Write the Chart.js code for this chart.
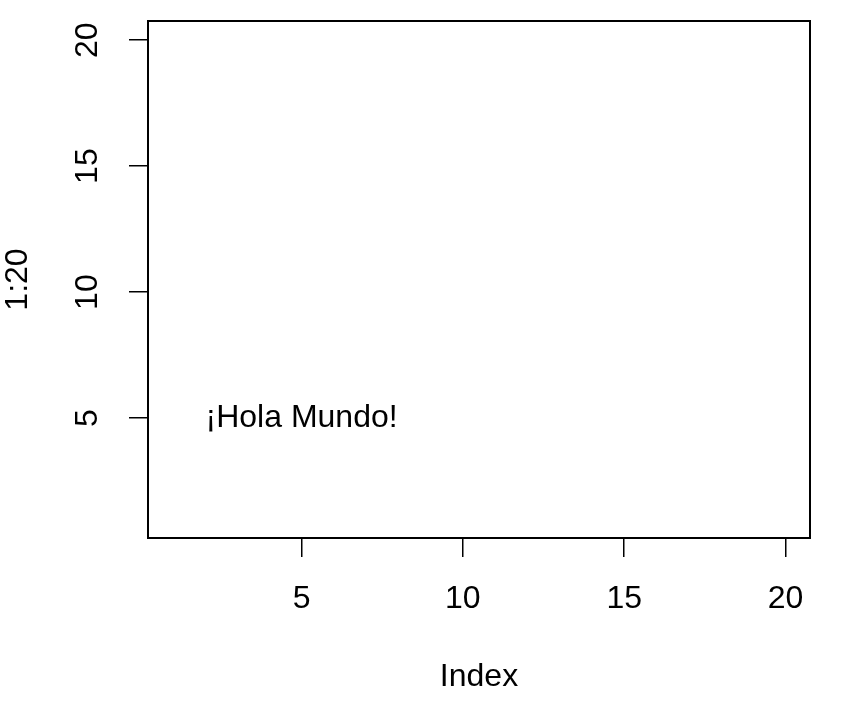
<!DOCTYPE html>
<html>
<head>
<meta charset="utf-8">
<script src="https://cdn.jsdelivr.net/npm/chart.js@4"></script>
<style>
  html, body { margin: 0; padding: 0; background: #ffffff; }
  #wrap { width: 842px; height: 702px; }
</style>
</head>
<body>
<div id="wrap"><canvas id="c" width="842" height="702"></canvas></div>
<script>
// Data (plot(1:20, type = "n") — no marks drawn)
const indexValues = [1,2,3,4,5,6,7,8,9,10,11,12,13,14,15,16,17,18,19,20];
const seriesValues = [1,2,3,4,5,6,7,8,9,10,11,12,13,14,15,16,17,18,19,20];
const xTickValues = [5, 10, 15, 20];
const yTickValues = [5, 10, 15, 20];
const xTitle = "Index";
const yTitle = "1:20";
const noteText = "¡Hola Mundo!";
const noteX = 5;
const noteY = 5;
const axisMin = 0.24;
const axisMax = 20.76;

const FONT = "'Liberation Sans', Arial, Helvetica, sans-serif";
const FS = 32;

const boxPlugin = {
  id: 'rbox',
  afterDraw(chart) {
    const ctx = chart.ctx;
    const a = chart.chartArea;
    ctx.save();
    ctx.strokeStyle = '#000';
    ctx.lineWidth = 2;
    ctx.strokeRect(a.left, a.top, a.right - a.left, a.bottom - a.top);
    // text annotation at data coordinates
    const xs = chart.scales.x, ys = chart.scales.y;
    ctx.fillStyle = '#000';
    ctx.font = FS + 'px ' + FONT;
    ctx.textAlign = 'center';
    ctx.textBaseline = 'middle';
    ctx.fillText(noteText, xs.getPixelForValue(noteX), ys.getPixelForValue(noteY));
    ctx.restore();
  }
};

new Chart(document.getElementById('c'), {
  type: 'scatter',
  data: {
    datasets: [{
      data: indexValues.map((x, i) => ({ x: x, y: seriesValues[i] })),
      pointRadius: 0,
      pointHoverRadius: 0,
      showLine: false
    }]
  },
  options: {
    responsive: false,
    animation: false,
    events: [],
    layout: { padding: { top: 21, right: 32, left: 0, bottom: 0 } },
    plugins: { legend: { display: false }, tooltip: { enabled: false } },
    scales: {
      x: {
        type: 'linear',
        min: axisMin,
        max: axisMax,
        afterBuildTicks: (s) => { s.ticks = xTickValues.map(v => ({ value: v })); },
        afterFit: (s) => { s.height = 164; s.paddingLeft = 0; s.paddingRight = 0; },
        grid: { display: true, drawOnChartArea: false, drawTicks: true, tickLength: 19, color: '#000', lineWidth: 1.5 },
        border: { display: true, color: '#000', width: 2 },
        ticks: { color: '#000', font: { family: FONT, size: FS }, padding: 23, maxRotation: 0, minRotation: 0, autoSkip: false },
        title: { display: true, text: xTitle, color: '#000', font: { family: FONT, size: FS }, padding: { top: 0, bottom: 6 } }
      },
      y: {
        type: 'linear',
        min: axisMin,
        max: axisMax,
        afterBuildTicks: (s) => { s.ticks = yTickValues.map(v => ({ value: v })); },
        afterFit: (s) => { s.width = 148; s.paddingTop = 0; s.paddingBottom = 0; },
        grid: { display: true, drawOnChartArea: false, drawTicks: true, tickLength: 19, color: '#000', lineWidth: 1.5 },
        border: { display: true, color: '#000', width: 2 },
        ticks: { color: '#000', font: { family: FONT, size: FS }, padding: 23, minRotation: 90, maxRotation: 90, crossAlign: 'center', autoSkip: false },
        title: { display: true, text: yTitle, color: '#000', font: { family: FONT, size: FS, lineHeight: 1 }, padding: { top: 2, bottom: 0 } }
      }
    }
  },
  plugins: [boxPlugin]
});
</script>
</body>
</html>
